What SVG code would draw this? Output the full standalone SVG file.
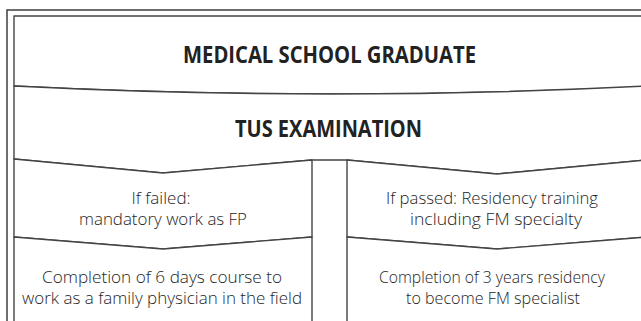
<svg xmlns="http://www.w3.org/2000/svg" width="641" height="321" viewBox="0 0 641 321">
<style>
.frame{fill:none;stroke:#4a4a4a;stroke-width:1.6}
.node{fill:#fff;stroke:#444;stroke-width:1.4;stroke-linejoin:round}
.h{font-family:"Open Sans","Noto Sans",sans-serif;font-weight:bold;font-size:23px;fill:#222;text-anchor:middle}
.t{font-family:"Open Sans","Noto Sans",sans-serif;font-weight:300;font-size:17px;fill:#1e1e1e;text-anchor:middle}
</style>
<rect width="641" height="321" fill="#fff"/>
<rect class="frame" x="7" y="10" width="660" height="330"/>
<g id="graduate">
<path class="node" d="M14,16 H660 V86 Q330.5,102 14,86 Z"/>
<text class="h" x="329.5" y="63" textLength="293" lengthAdjust="spacingAndGlyphs">MEDICAL SCHOOL GRADUATE</text>
</g>
<g id="tus">
<path class="node" d="M14,86 Q330.5,102 647,86 L660,86 V160 L647,160 L497,174 L347,160 H312 L163,173 L14,159 Z"/>
<text class="h" x="328.5" y="137" textLength="187" lengthAdjust="spacingAndGlyphs">TUS EXAMINATION</text>
</g>
<g id="failed">
<path class="node" d="M14,159 L163,173 L312,160 V237 L163,249 L14,237 Z"/>
<text class="t" x="161" y="204">If failed:</text>
<text class="t" x="163" y="225" textLength="168" lengthAdjust="spacingAndGlyphs">mandatory work as FP</text>
</g>
<g id="passed">
<path class="node" d="M347,160 L497,174 L647,160 V237 L497,249 L347,237 Z"/>
<text class="t" x="492" y="204" textLength="212" lengthAdjust="spacingAndGlyphs">If passed: Residency training</text>
<text class="t" x="496" y="225" textLength="172" lengthAdjust="spacingAndGlyphs">including FM specialty</text>
</g>
<g id="course">
<path class="node" d="M14,237 L163,249 L312,237 V330 H14 Z"/>
<text class="t" x="162" y="283" textLength="240" lengthAdjust="spacingAndGlyphs">Completion of 6 days course to</text>
<text class="t" x="162" y="304" textLength="280" lengthAdjust="spacingAndGlyphs">work as a family physician in the field</text>
</g>
<g id="residency">
<path class="node" d="M347,237 L497,249 L647,237 V330 H347 Z"/>
<text class="t" x="492" y="283" textLength="226" lengthAdjust="spacingAndGlyphs">Completion of 3 years residency</text>
<text class="t" x="493" y="304" textLength="174" lengthAdjust="spacingAndGlyphs">to become FM specialist</text>
</g>
<g id="connectors"></g>
</svg>
